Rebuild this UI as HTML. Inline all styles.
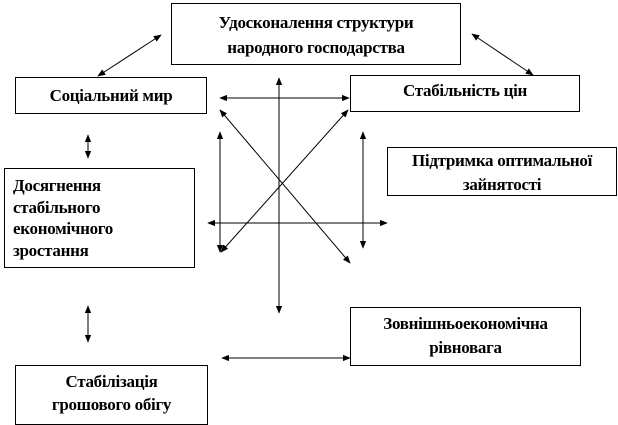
<!DOCTYPE html>
<html><head><meta charset="utf-8"><style>
html,body{margin:0;padding:0;background:#fff;}
body{width:618px;height:415px;position:relative;overflow:hidden;font-family:"Liberation Serif",serif;font-weight:bold;font-size:17px;color:#000;letter-spacing:-0.3px;}
.b{position:absolute;border:1px solid #000;box-sizing:border-box;background:#fff;line-height:24px;}
.c{text-align:center;}
svg{position:absolute;left:0;top:0;}
</style></head><body>
<svg width="618" height="415">
<defs><marker id="a" viewBox="0 0 10 10" refX="9" refY="5" markerWidth="8" markerHeight="8" orient="auto-start-reverse"><path d="M0,1 L10,5 L0,9 z" fill="#000"/></marker></defs>
<g stroke="#000" stroke-width="1" fill="none" marker-start="url(#a)" marker-end="url(#a)">
<line x1="98" y1="76" x2="161" y2="35"/>
<line x1="472" y1="34" x2="533" y2="75"/>
<line x1="220" y1="98" x2="349" y2="98"/>
<line x1="279" y1="78" x2="279" y2="313"/>
<line x1="220" y1="132" x2="220" y2="252"/>
<line x1="363" y1="132" x2="363" y2="248"/>
<line x1="220" y1="110" x2="350" y2="263"/>
<line x1="348" y1="110" x2="221" y2="252"/>
<line x1="208" y1="223" x2="387" y2="223"/>
<line x1="88" y1="135" x2="88" y2="158"/>
<line x1="88" y1="306" x2="88" y2="342"/>
<line x1="222" y1="358" x2="350" y2="358"/>
</g></svg>
<div class="b c" style="left:171px;top:3px;width:290px;height:62px;padding-top:6px;line-height:25px;">Удосконалення структури<br>народного господарства</div>
<div class="b c" style="left:15px;top:77px;width:192px;height:37px;padding-top:6px;">Соціальний мир</div>
<div class="b c" style="left:350px;top:75px;width:230px;height:37px;padding-top:3px;">Стабільність цін</div>
<div class="b c" style="left:387px;top:147px;width:230px;height:49px;padding-top:1px;">Підтримка оптимальної<br>зайнятості</div>
<div class="b" style="left:4px;top:168px;width:191px;height:100px;padding:6px 0 0 8px;line-height:21.5px;">Досягнення<br>стабільного<br>економічного<br>зростання</div>
<div class="b c" style="left:350px;top:307px;width:231px;height:59px;padding-top:4px;">Зовнішньоекономічна<br>рівновага</div>
<div class="b c" style="left:15px;top:365px;width:193px;height:60px;padding-top:4px;line-height:23px;">Стабілізація<br>грошового обігу</div>
</body></html>
